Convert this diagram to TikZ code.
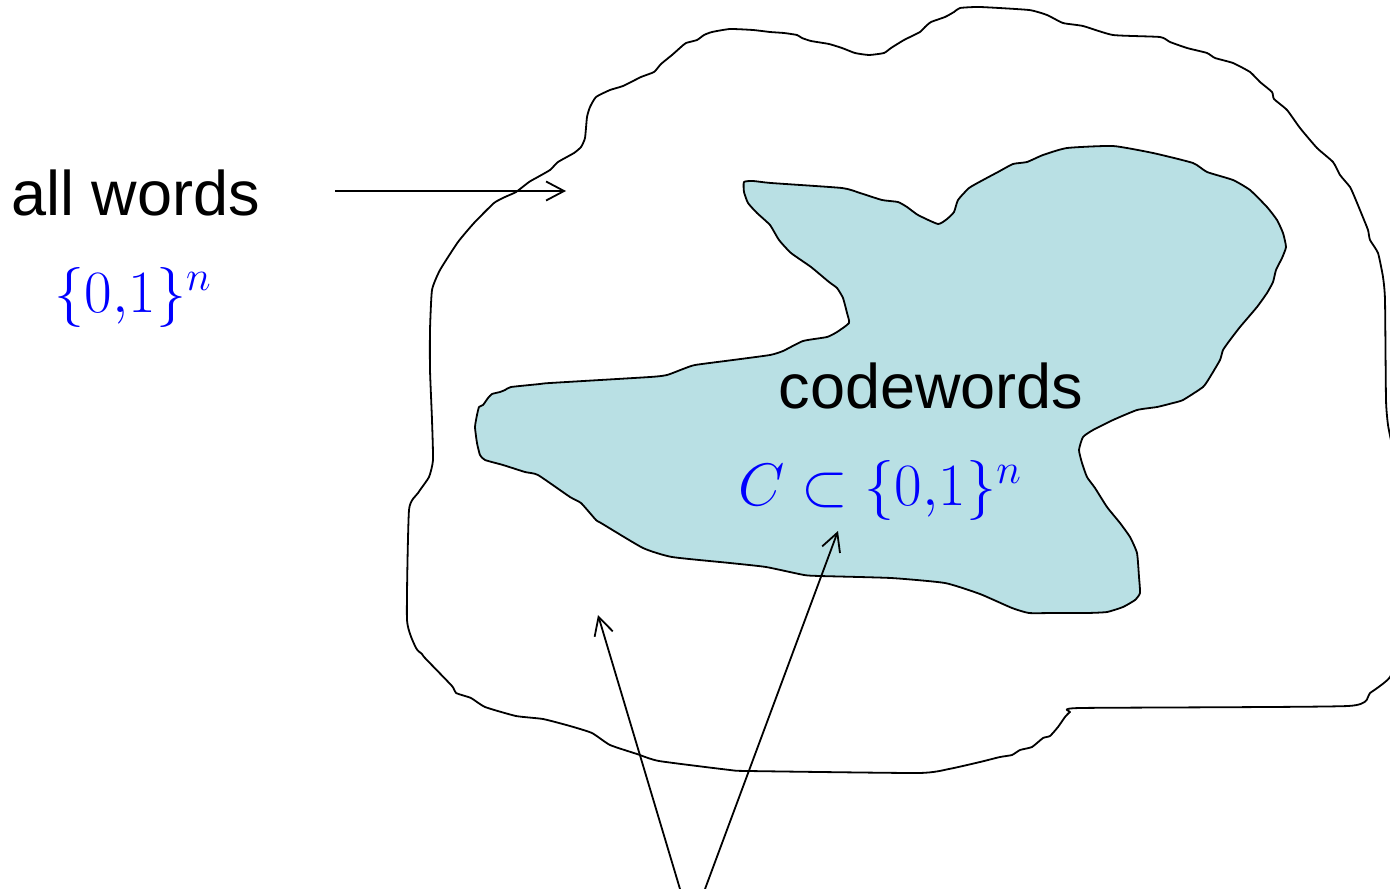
\RequirePackage{fix-cm}
\documentclass[tikz,border=0pt]{standalone}
\usepackage[no-math]{fontspec}
\setmainfont{Liberation Sans}
\usetikzlibrary{arrows.meta}
\definecolor{codefill}{RGB}{185,224,228}
\definecolor{setblue}{RGB}{0,0,255}
\begin{document}
\begin{tikzpicture}[x=1pt,y=-1pt,
  outline/.style={line width=1.8pt, line join=round},
  linkarrow/.style={line width=1.8pt, -{Straight Barb[length=18pt,width=19pt]}},
  wordtext/.style={inner sep=0pt, font=\fontsize{63}{70}\selectfont},
  settext/.style={inner sep=0pt, text=setblue, font=\fontsize{60}{68}\selectfont}]
\useasboundingbox (0,0) rectangle (1390,889);

% the set of all words
\begin{scope}
\clip (0,0) rectangle (1390,889);
\draw[outline] plot[smooth cycle, tension=0.3] coordinates {
(432,290) (440,270) (458,242) (474,223) (494,203) (505,197) (516,192) (529,182)
(536,178) (550,170) (558,162) (574,153) (581,147) (585,138) (587,117) (590,107)
(596,97) (610,90) (623,86) (641,77) (654,72) (661,64) (672,55) (681,47)
(686,43) (697,40) (704,35) (712,32) (730,29) (753,30) (770,32) (784,33) (797,35)
(802,38) (811,41) (829,44) (842,48) (855,53) (869,55) (884,53) (891,48) (904,40)
(920,32) (925,27) (931,22) (945,17) (954,12) (960,8) (980,7) (1029,10) (1047,15)
(1063,23) (1083,26) (1113,35) (1160,37) (1170,42) (1187,48) (1207,53) (1215,58)
(1233,63) (1250,72) (1260,82) (1272,92) (1274,99) (1287,110) (1300,128) (1317,148)
(1333,162) (1340,175) (1350,187) (1355,198) (1362,215) (1368,230) (1370,240)
(1378,253) (1383,277) (1385,300) (1386,400) (1388,425) (1392,445) (1400,480)
(1405,560) (1402,640) (1390,677) (1370,693) (1348,706) (1080,708)
(1070,712) (1065,717) (1058,727) (1050,736) (1043,738) (1032,747) (1020,750)
(1012,755) (1000,757) (980,762) (949,769) (918,773) (748,771) (730,770) (659,761)
(637,754) (610,745) (592,733) (570,726) (543,719) (516,716) (485,707) (471,698)
(456,693) (452,686) (425,658) (422,654) (416,648) (407,620) (409,510) (418,493)
(429,477) (433,460) (432,420) (430,370) (430,330)};
\end{scope}

% the code inside it
\draw[outline, fill=codefill] plot[smooth cycle, tension=0.3] coordinates {
(744,182) (753,181) (771,183) (842,188) (860,193) (882,200) (898,202) (907,207)
(918,215) (938,224) (947,219) (954,212) (958,200) (969,188) (983,180) (998,172)
(1013,164) (1027,162) (1043,155) (1067,148) (1113,146) (1153,153) (1193,163)
(1207,172) (1233,180) (1250,190) (1267,207) (1277,220) (1283,233) (1286,247)
(1282,258) (1276,270) (1273,282) (1267,293) (1257,307) (1240,327) (1230,340)
(1223,350) (1220,360) (1210,377) (1203,387) (1183,400) (1173,403) (1157,407)
(1137,410) (1113,420) (1093,430) (1083,437) (1079,450) (1082,463) (1087,477)
(1095,488) (1107,507) (1120,523) (1130,537) (1137,553) (1139,577) (1140,593)
(1135,600) (1123,607) (1107,612) (1087,613) (1053,613) (1029,613) (1012,608)
(980,594) (945,583) (891,578) (820,576) (804,575) (766,567) (730,563) (672,557)
(643,548) (601,523) (596,520) (581,503) (570,497) (538,475) (525,472) (503,465)
(485,460) (480,455) (477,443) (475,427) (477,415) (479,407) (483,405) (488,398)
(492,394) (500,392) (505,390) (511,387) (540,384) (550,383) (650,377) (667,375)
(683,369) (695,365) (733,360) (770,355) (783,351) (803,341) (827,337) (837,332)
(849,323) (847,313) (843,298) (837,288) (829,282) (811,267) (791,253) (779,240)
(770,225) (757,213) (748,203) (744,192)};

% labels
\node[wordtext, anchor=base west] (allwords) at (11,215) {all words};
\node[settext, anchor=base] (allset) at (133,312) {$\{0{,}1\}^n$};
\node[wordtext, anchor=base] (codewords) at (931,408) {codewords};
\node[settext, anchor=base] (codeset) at (880,505) {$C\subset\{0{,}1\}^n$};

% arrows
\coordinate (wordsTail) at (335,191);
\coordinate (wordsHead) at (566,191);
\coordinate (footL) at (680,889);
\coordinate (ringHead) at (598,615);
\coordinate (footR) at (705,889);
\coordinate (codeHead) at (838,531);
\draw[linkarrow] (wordsTail) -- (wordsHead);
\draw[linkarrow] (footL) -- (ringHead);
\draw[linkarrow] (footR) -- (codeHead);
\end{tikzpicture}
\end{document}
